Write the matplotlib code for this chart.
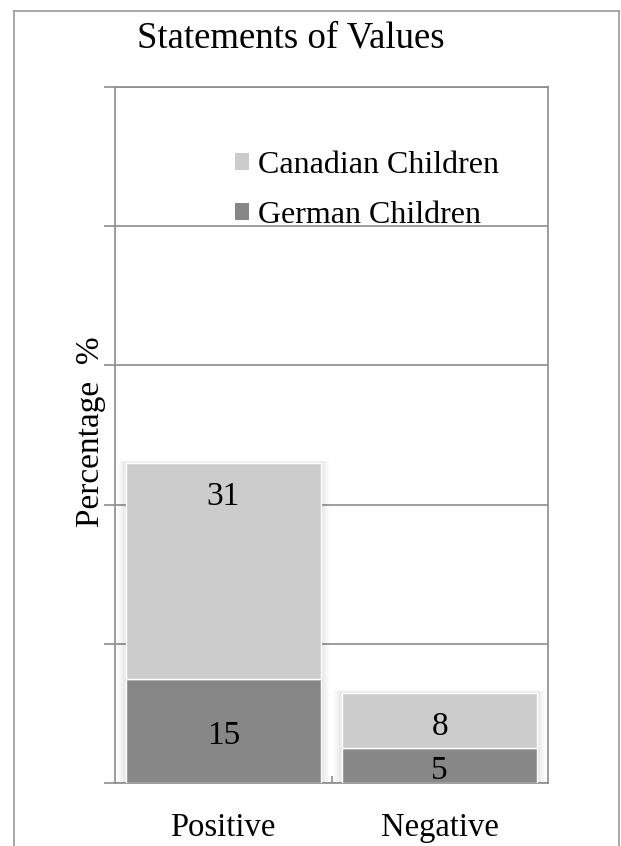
import matplotlib
matplotlib.use("Agg")
import matplotlib.pyplot as plt
from matplotlib.patches import Rectangle, Patch
from matplotlib.lines import Line2D

categories = ["Positive", "Negative"]
german = [15, 5]
canadian = [31, 8]
series_names = ["Canadian Children", "German Children"]
title = "Statements of Values"
ylabel = "Percentage  %"

plt.rcParams['font.family'] = ['Liberation Serif', 'DejaVu Serif']

W, H, DPI = 621, 846, 100
fig = plt.figure(figsize=(W / DPI, H / DPI), dpi=DPI)
ax = fig.add_axes([115 / W, 1 - 783 / H, (548 - 115) / W, (783 - 87) / H])

c_can = "#CCCCCC"
c_ger = "#878787"
grid_c = "#8C8C8C"

x = list(range(len(categories)))
bw = 0.9
ax.set_xlim(-0.5, len(categories) - 0.5)
ax.set_ylim(0, 100)

# soft shadow around bars
px_x = (len(categories)) / (548 - 115)
px_y = 100 / (783 - 87)
for i in x:
    tot = german[i] + canadian[i]
    for k, a in zip([9, 7, 5, 3], [0.012, 0.018, 0.024, 0.03]):
        ax.add_patch(Rectangle((i - bw / 2 - k * px_x, 0), bw + 2 * k * px_x, tot + k * px_y * 0.3,
                               facecolor="black", edgecolor="none", alpha=a, zorder=2))

ax.bar(x, german, width=bw, color=c_ger, edgecolor="white", linewidth=1.0, zorder=3)
ax.bar(x, canadian, width=bw, bottom=german, color=c_can, edgecolor="white", linewidth=1.0, zorder=3)

for i in x:
    tot = german[i] + canadian[i]
    ax.annotate(str(canadian[i]), (i, tot), xytext=(0, -24.5), textcoords="offset points",
                ha="center", va="center", fontsize=24, zorder=5)
    ax.annotate(str(german[i]), (i, german[i] / 2), xytext=(0, -3.6), textcoords="offset points",
                ha="center", va="center", fontsize=24, zorder=5)

ax.set_yticks([0, 20, 40, 60, 80, 100])
ax.set_yticklabels([])
ax.yaxis.grid(True, color=grid_c, linewidth=1.2, zorder=0)
ax.set_axisbelow(True)
ax.tick_params(axis="y", direction="out", length=8, width=1.2, color=grid_c)

ax.set_xticks(x)
ax.set_xticklabels(categories, fontsize=23.5)
ax.tick_params(axis="x", which="major", length=0, pad=21)
ax.set_xticks([0.5], minor=True)
ax.tick_params(axis="x", which="minor", direction="in", length=5, width=1.2, color=grid_c)

for s in ax.spines.values():
    s.set_color(grid_c)
    s.set_linewidth(1.2)

ax.set_ylabel(ylabel, fontsize=24)
ax.yaxis.set_label_coords(-0.02, 0.505)

fig.text(291 / W, 1 - 38 / H, title, ha="center", va="center", fontsize=26.5)

handles = [Patch(facecolor=c_can, edgecolor="none"), Patch(facecolor=c_ger, edgecolor="none")]
fig.legend(handles, series_names, loc="upper left", bbox_to_anchor=(235 / W, 1 - 151 / H),
           bbox_transform=fig.transFigure, frameon=False, fontsize=23,
           handlelength=0.44, handleheight=0.44, handletextpad=0.28, labelspacing=0.65,
           borderpad=0, borderaxespad=0)

# outer border (open at bottom)
bc = "#999999"
fig.add_artist(Line2D([14 / W, 14 / W], [0, 1 - 11 / H], transform=fig.transFigure, color=bc, lw=1.2))
fig.add_artist(Line2D([14 / W, 619 / W], [1 - 11 / H, 1 - 11 / H], transform=fig.transFigure, color=bc, lw=1.2))
fig.add_artist(Line2D([619 / W, 619 / W], [0, 1 - 11 / H], transform=fig.transFigure, color=bc, lw=1.2))

fig.savefig("out.png", dpi=DPI, facecolor="white")
